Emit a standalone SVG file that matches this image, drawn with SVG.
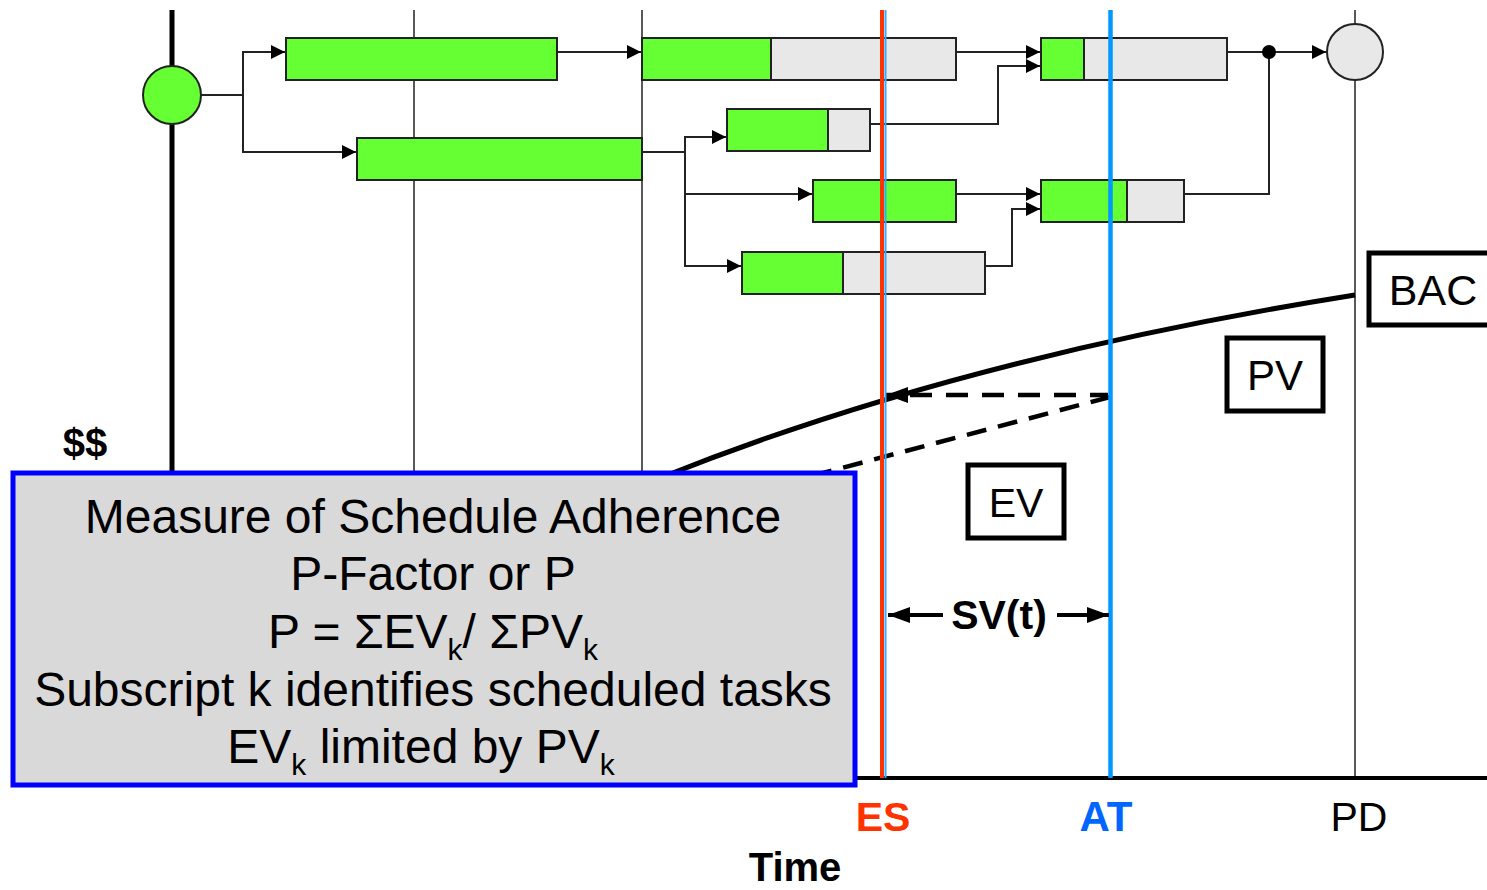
<svg xmlns="http://www.w3.org/2000/svg" width="1487" height="890" viewBox="0 0 1487 890">
<style>
.task{stroke:#222;stroke-width:2}
.g{fill:#66FF33}
.gr{fill:#E8E8E8}
.conn{fill:none;stroke:#222;stroke-width:2}
.grid{stroke:#222;stroke-width:1.5}
.lbl{font-family:"Liberation Sans",Arial,sans-serif;fill:#000}
.box{fill:#fff;stroke:#000;stroke-width:5}
</style>
<defs>
<marker id="ah" markerWidth="14" markerHeight="14" viewBox="0 0 14 14" refX="14" refY="7" orient="auto" markerUnits="userSpaceOnUse">
<path d="M0,0 L14,7 L0,14 Z" fill="#000"/>
</marker>
<marker id="ah2" markerWidth="22" markerHeight="16" viewBox="0 0 22 16" refX="22" refY="8" orient="auto" markerUnits="userSpaceOnUse">
<path d="M0,0 L22,8 L0,16 Z" fill="#000"/>
</marker>
</defs>
<rect width="1487" height="890" fill="#fff"/>

<g id="grid">
<line x1="172" y1="10" x2="172" y2="778" stroke="#000" stroke-width="5"/>
<line class="grid" x1="414" y1="10" x2="414" y2="778"/>
<line class="grid" x1="642" y1="10" x2="642" y2="778"/>
<line class="grid" x1="1355" y1="10" x2="1355" y2="778"/>
<line x1="172" y1="778" x2="1487" y2="778" stroke="#000" stroke-width="4"/>
</g>

<g id="connectors">
<polyline class="conn" points="201,95 243,95 243,52 285,52" marker-end="url(#ah)"/>
<polyline class="conn" points="243,95 243,152 356,152" marker-end="url(#ah)"/>
<polyline class="conn" points="557,52 641,52" marker-end="url(#ah)"/>
<polyline class="conn" points="956,52 1040,52" marker-end="url(#ah)"/>
<polyline class="conn" points="642,152 685,152 685,137 726,137" marker-end="url(#ah)"/>
<polyline class="conn" points="685,152 685,194 812,194" marker-end="url(#ah)"/>
<polyline class="conn" points="685,194 685,266 741,266" marker-end="url(#ah)"/>
<polyline class="conn" points="870,124 998,124 998,66 1040,66" marker-end="url(#ah)"/>
<polyline class="conn" points="956,194 1040,194" marker-end="url(#ah)"/>
<polyline class="conn" points="985,266 1012,266 1012,209 1040,209" marker-end="url(#ah)"/>
<polyline class="conn" points="1184,194 1269,194 1269,52"/>
<polyline class="conn" points="1227,52 1326,52" marker-end="url(#ah)"/>
<circle cx="1269" cy="52" r="7" fill="#000"/>
</g>

<g id="start"><circle cx="172" cy="95" r="29" class="g task" stroke-width="1.5"/></g>
<g id="end"><circle cx="1355" cy="52" r="28" class="gr task"/></g>

<g id="task1"><rect x="286" y="38" width="271" height="42" class="g task"/></g>
<g id="task2"><rect x="357" y="138" width="285" height="42" class="g task"/></g>
<g id="task3"><rect x="642" y="38" width="314" height="42" class="gr task"/><rect x="642" y="38" width="129" height="42" class="g task"/></g>
<g id="task4"><rect x="727" y="109" width="143" height="42" class="gr task"/><rect x="727" y="109" width="101" height="42" class="g task"/></g>
<g id="task5"><rect x="813" y="180" width="143" height="42" class="g task"/></g>
<g id="task6"><rect x="1041" y="38" width="186" height="42" class="gr task"/><rect x="1041" y="38" width="43" height="42" class="g task"/></g>
<g id="task7"><rect x="742" y="252" width="243" height="42" class="gr task"/><rect x="742" y="252" width="101" height="42" class="g task"/></g>
<g id="task8"><rect x="1041" y="180" width="143" height="42" class="gr task"/><rect x="1041" y="180" width="86" height="42" class="g task"/></g>

<g id="curves">
<path d="M660,478 Q959,358 1355,295" fill="none" stroke="#000" stroke-width="5"/>
<line x1="1110" y1="397" x2="800" y2="479" stroke="#000" stroke-width="4.5" stroke-dasharray="20,12"/>
<line x1="1108" y1="395" x2="886" y2="395" stroke="#000" stroke-width="4.5" stroke-dasharray="22,14" stroke-dashoffset="4"/>
<path d="M886,395 L908,387 L908,403 Z" fill="#000"/>
</g>

<g id="lines-es-at">
<line x1="882" y1="10" x2="882" y2="778" stroke="#FF3300" stroke-width="4"/>
<line x1="885.5" y1="10" x2="885.5" y2="778" stroke="#33AAFF" stroke-width="2"/>
<line x1="1110.5" y1="10" x2="1110.5" y2="778" stroke="#0099FF" stroke-width="4.5"/>
</g>

<g id="svt">
<line x1="943" y1="615" x2="888" y2="615" stroke="#000" stroke-width="4" marker-end="url(#ah2)"/>
<line x1="1057" y1="615" x2="1109" y2="615" stroke="#000" stroke-width="4" marker-end="url(#ah2)"/>
<text class="lbl" x="999" y="629" font-size="41" font-weight="bold" text-anchor="middle">SV(t)</text>
</g>

<g id="bac"><rect x="1369" y="253" width="130" height="72" class="box"/><text class="lbl" x="1433" y="305" font-size="43" text-anchor="middle">BAC</text></g>
<g id="pv"><rect x="1227" y="338" width="96" height="73" class="box"/><text class="lbl" x="1275" y="390" font-size="42" text-anchor="middle">PV</text></g>
<g id="ev"><rect x="968" y="465" width="96" height="73" class="box"/><text class="lbl" x="1016" y="517" font-size="41" text-anchor="middle">EV</text></g>

<text class="lbl" x="85" y="457" font-size="40" font-weight="bold" text-anchor="middle">$$</text>

<g id="infobox">
<rect x="13" y="473" width="842" height="312" fill="#D9D9D9" stroke="#0000FF" stroke-width="5"/>
<g class="lbl" font-size="48" text-anchor="middle">
<text x="433" y="533">Measure of Schedule Adherence</text>
<text x="433" y="590">P-Factor or P</text>
<text x="433" y="648">P = ΣEV<tspan font-size="30" dy="12">k</tspan><tspan dy="-12">/ ΣPV</tspan><tspan font-size="30" dy="12">k</tspan></text>
<text x="433" y="706">Subscript k identifies scheduled tasks</text>
<text x="421" y="763">EV<tspan font-size="30" dy="12">k</tspan><tspan dy="-12"> limited by PV</tspan><tspan font-size="30" dy="12">k</tspan></text>
</g>
</g>

<text class="lbl" x="883" y="831" font-size="41" font-weight="bold" text-anchor="middle" style="fill:#FF3300">ES</text>
<text class="lbl" x="1106" y="831" font-size="42" font-weight="bold" text-anchor="middle" style="fill:#0066FF">AT</text>
<text class="lbl" x="1359" y="831" font-size="41" text-anchor="middle">PD</text>
<text class="lbl" x="795" y="881" font-size="40" font-weight="bold" text-anchor="middle">Time</text>
</svg>
